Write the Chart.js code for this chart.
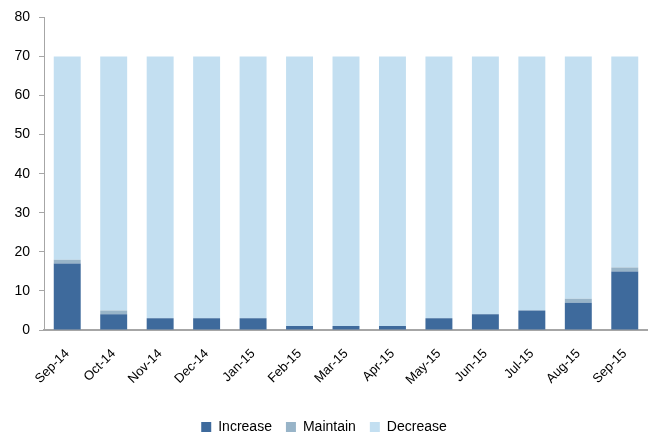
<!DOCTYPE html>
<html>
<head>
<meta charset="utf-8">
<script src="https://cdn.jsdelivr.net/npm/chart.js@4"></script>
<style>
    html, body { margin: 0; padding: 0; background: #fff; }
    canvas { display: block; }
</style>
</head>
<body>
<canvas id="chart" width="648" height="434"></canvas>
<script>
const months = ["Sep-14", "Oct-14", "Nov-14", "Dec-14", "Jan-15", "Feb-15", "Mar-15",
    "Apr-15", "May-15", "Jun-15", "Jul-15", "Aug-15", "Sep-15"];
const increase = [17, 4, 3, 3, 3, 1, 1, 1, 3, 4, 5, 7, 15];
const maintain = [1, 1, 0, 0, 0, 0, 0, 0, 0, 0, 0, 1, 1];
const decrease = [52, 65, 67, 67, 67, 69, 69, 69, 67, 66, 65, 62, 54];
const yTicks = [0, 10, 20, 30, 40, 50, 60, 70, 80];

const font = { family: "'Liberation Sans', 'DejaVu Sans', sans-serif", size: 13 };

Chart.defaults.font = font;
Chart.defaults.color = "#000";

function bars(label, data, color) {
    return {
        label: label,
        data: data,
        backgroundColor: color,
        borderWidth: 0,
        barPercentage: 0.58,
        categoryPercentage: 1
    };
}

new Chart(document.getElementById("chart"), {
    type: "bar",
    data: {
        labels: months,
        datasets: [
            bars("Increase", increase, "#3e6a9c"),
            bars("Maintain", maintain, "#98b4c8"),
            bars("Decrease", decrease, "#c3dff1")
        ]
    },
    options: {
        responsive: false,
        animation: false,
        // legend sits low in the original, so let it hang past the bottom padding
        layout: { padding: { top: 17, right: 0, left: 0, bottom: -10 } },
        plugins: {
            tooltip: { enabled: false },
            legend: {
                position: "bottom",
                labels: {
                    boxWidth: 10,
                    boxHeight: 10,
                    padding: 14,
                    font: { family: font.family, size: 14 }
                }
            }
        },
        scales: {
            x: {
                stacked: true,
                grid: { display: false },
                border: { color: "#a6a6a6", width: 2 },
                ticks: { maxRotation: 45, minRotation: 45, padding: 8 },
                afterFit: s => { s.height = 76; }
            },
            y: {
                stacked: true,
                min: 0,
                max: 80,
                afterBuildTicks: s => { s.ticks = yTicks.map(v => ({ value: v })); },
                grid: {
                    drawOnChartArea: false,
                    drawTicks: true,
                    tickLength: 5,
                    color: "#a6a6a6"
                },
                border: { color: "#a6a6a6", width: 1 },
                ticks: { padding: 9, font: { family: font.family, size: 14 } },
                afterFit: s => { s.width = 44; }
            }
        }
    }
});
</script>
</body>
</html>
